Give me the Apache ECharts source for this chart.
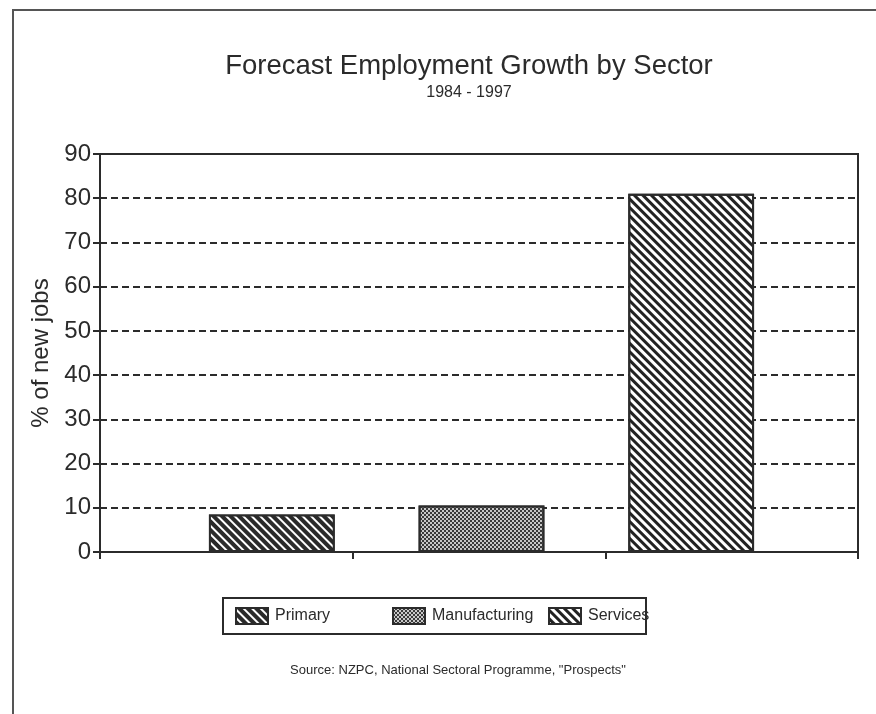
<!DOCTYPE html>
<html>
<head>
<meta charset="utf-8">
<script src="https://cdn.jsdelivr.net/npm/echarts@6/dist/echarts.min.js"></script>
<style>
html,body{margin:0;padding:0;background:#fff;}
#c{width:876px;height:714px;}
</style>
</head>
<body>
<div id="c"></div>
<script>
const categories = ['Primary', 'Manufacturing', 'Services'];
const values = [8.5, 10.5, 81];
const yTicks = [0, 10, 20, 30, 40, 50, 60, 70, 80, 90];
const titleText = 'Forecast Employment Growth by Sector';
const subtitleText = '1984 - 1997';
const yName = '% of new jobs';
const sourceText = 'Source: NZPC, National Sectoral Programme, "Prospects"';

const FONT = 'Liberation Sans, Arial, Helvetica, sans-serif';
const INK = '#2b2b2b';

const styles = [
  { color: '#2a2a2a', decal: { symbol: 'rect', symbolSize: 1, color: '#ffffff', dashArrayX: [1, 0], dashArrayY: [2, 4], rotation: Math.PI / 4 } },
  { color: '#c8c8c8', decal: { symbol: 'rect', symbolSize: 1, color: '#3a3a3a', dashArrayX: [[2, 2], [0, 2, 2, 0]], dashArrayY: [2, 0], rotation: 0 } },
  { color: '#ffffff', decal: { symbol: 'rect', symbolSize: 1, color: '#222222', dashArrayX: [1, 0], dashArrayY: [3, 3], rotation: Math.PI / 4 } }
];

const series = categories.map((name, i) => ({
  name: name,
  type: 'bar',
  xAxisIndex: 1,
  yAxisIndex: 1,
  barWidth: '60%',
  barGap: '-100%',
  z: 5,
  itemStyle: { color: styles[i].color, decal: styles[i].decal, borderColor: INK, borderWidth: 2 },
  data: categories.map((c, j) => (j === i ? values[i] : '-'))
}));

const legendLefts = [235, 392, 548];
const legends = categories.map((name, i) => ({
  data: [name],
  left: legendLefts[i],
  top: 607,
  padding: 0,
  itemWidth: 32,
  itemHeight: 16,
  icon: 'rect',
  selectedMode: false,
  textStyle: { fontFamily: FONT, fontSize: 16, color: INK, padding: [0, 0, 0, 2] }
}));

const chart = echarts.init(document.getElementById('c'), null, { renderer: 'canvas' });
chart.setOption({
  backgroundColor: '#ffffff',
  animation: false,
  title: [
    { text: titleText, left: 464, top: 47, textAlign: 'center', textStyle: { fontFamily: FONT, fontSize: 27.5, fontWeight: 'normal', color: INK } },
    { text: subtitleText, left: 464, top: 80, textAlign: 'center', textStyle: { fontFamily: FONT, fontSize: 16, fontWeight: 'normal', color: INK } }
  ],
  legend: legends,
  grid: [
    { left: 100, right: 18, top: 154, bottom: 162, show: true, borderColor: INK, borderWidth: 2, backgroundColor: 'transparent' },
    { left: 167, right: 80, top: 154, bottom: 162 }
  ],
  xAxis: [
    { type: 'category', gridIndex: 0, data: categories, boundaryGap: true,
      axisLine: { show: true, lineStyle: { color: INK, width: 2 } },
      axisTick: { show: true, length: 7, lineStyle: { color: INK, width: 2 } },
      axisLabel: { show: false } },
    { type: 'category', gridIndex: 1, data: categories, show: false }
  ],
  yAxis: [
    { type: 'value', gridIndex: 0, min: yTicks[0], max: yTicks[yTicks.length - 1], interval: 10,
      name: yName, nameLocation: 'middle', nameGap: 44, nameRotate: 90,
      nameTextStyle: { fontFamily: FONT, fontSize: 24, color: INK },
      axisLine: { show: true, lineStyle: { color: INK, width: 2 } },
      axisTick: { show: true, length: 7, lineStyle: { color: INK, width: 2 } },
      axisLabel: { fontFamily: FONT, fontSize: 24, color: INK, margin: 9 },
      splitLine: { show: true, lineStyle: { color: INK, width: 2, type: [7, 4] } } },
    { type: 'value', gridIndex: 1, min: yTicks[0], max: yTicks[yTicks.length - 1], show: false, splitLine: { show: false } }
  ],
  series: series,
  graphic: [
    { type: 'rect', shape: { x: 13, y: 10, width: 920, height: 800 }, style: { fill: 'none', stroke: '#555', lineWidth: 2 }, silent: true },
    { type: 'rect', shape: { x: 223, y: 598, width: 423, height: 36 }, style: { fill: 'none', stroke: INK, lineWidth: 2 }, silent: true },
    { type: 'text', x: 458, y: 670, style: { text: sourceText, fontFamily: FONT, fontSize: 13, fill: INK, textAlign: 'center', textVerticalAlign: 'middle' }, silent: true }
  ]
});
</script>
</body>
</html>
